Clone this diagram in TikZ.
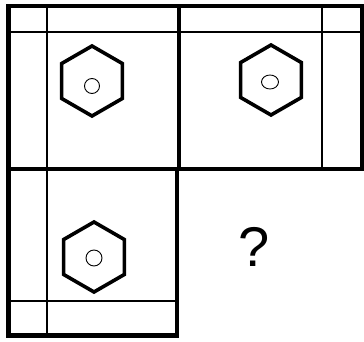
\documentclass[tikz,border=0pt]{standalone}
\usepackage{fontspec}
\newfontfamily\qfont{Liberation Sans}
\begin{document}
\begin{tikzpicture}[x=1pt,y=-1pt,
  frame/.style={line width=4.5pt, line join=miter},
  thinline/.style={line width=1.1pt},
  hexline/.style={line width=3.6pt, line join=miter},
  hole/.style={line width=0.9pt}]
\useasboundingbox (0,0) rectangle (364,342);
% thin guide lines
\draw[thinline] (47,6) -- (47,335.5);
\draw[thinline] (8.5,32) -- (362,32);
\draw[thinline] (322,6) -- (322,169);
\draw[thinline] (8.5,301) -- (177,301);
% thick frames
\draw[frame] (8.5,6) rectangle (362,169);
\draw[frame] (179,6) -- (179,169);
\draw[frame] (8.5,169) rectangle (177,335.5);
% hexagons
\draw[hexline] (92,81) +(90:35) -- +(150:35) -- +(210:35) -- +(270:35) -- +(330:35) -- +(30:35) -- cycle;
\draw[hexline] (271,80) +(90:35) -- +(150:35) -- +(210:35) -- +(270:35) -- +(330:35) -- +(30:35) -- cycle;
\draw[hexline] (94,257) +(90:35) -- +(150:35) -- +(210:35) -- +(270:35) -- +(330:35) -- +(30:35) -- cycle;
% holes
\draw[hole] (92,86) circle [radius=7.5];
\draw[hole] (270,82) ellipse [x radius=8.5, y radius=7];
\draw[hole] (94,258) circle [radius=8];
% question mark
\node[inner sep=0pt, font=\qfont\fontsize{56}{56}\selectfont] (q) at (254,247) {?};
\end{tikzpicture}
\end{document}
